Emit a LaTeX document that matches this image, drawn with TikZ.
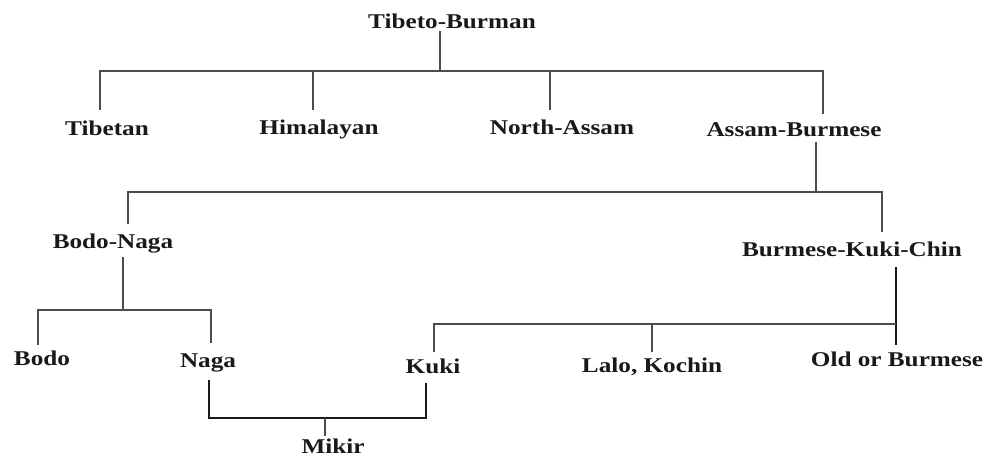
\documentclass[tikz,border=0pt]{standalone}
\usepackage{fontspec}
\setmainfont{Liberation Serif}[FakeStretch=1.2]
\begin{document}
\begin{tikzpicture}[x=1pt,y=-1pt,
  lbl/.style={font=\fontsize{21}{25}\selectfont\bfseries, inner sep=0pt, anchor=base, text=black!90},
  ln/.style={draw=black!70, line width=1.3pt},
  thk/.style={draw=black!90, line width=2.2pt}]
\useasboundingbox[fill=white] (0,0) rectangle (988,457);
% nodes
\node[lbl] (tb) at (452,29) {Tibeto-Burman};
\node[lbl] (tib) at (107,136) {Tibetan};
\node[lbl] (him) at (319,135) {Himalayan};
\node[lbl] (na) at (562,135) {North-Assam};
\node[lbl] (ab) at (794,137) {Assam-Burmese};
\node[lbl] (bn) at (113,248) {Bodo-Naga};
\node[lbl] (bkc) at (852,256) {Burmese-Kuki-Chin};
\node[lbl] (bodo) at (42,365) {Bodo};
\node[lbl] (naga) at (208,367) {Naga};
\node[lbl] (kuki) at (433,373) {Kuki};
\node[lbl] (lalo) at (652,372) {Lalo, Kochin};
\node[lbl] (old) at (897,366) {Old or Burmese};
\node[lbl] (mikir) at (333,453) {Mikir};
% coordinates
\coordinate (tbS) at (440,31);
\coordinate (tbJ) at (440,71);
\coordinate (tibT) at (100,110);
\coordinate (himT) at (313,110);
\coordinate (naT) at (550,110);
\coordinate (abT) at (823,114);
\coordinate (abS) at (816,142);
\coordinate (abJ) at (816,192);
\coordinate (bnT) at (128,224);
\coordinate (bkcT) at (882,232);
\coordinate (bnS) at (123,257);
\coordinate (bnJ) at (123,310);
\coordinate (bodoT) at (38,345);
\coordinate (nagaT) at (211,343);
\coordinate (bkcS) at (896,267);
\coordinate (bkcB) at (896,345);
\coordinate (bkcJ) at (896,324);
\coordinate (kukiT) at (434,352);
\coordinate (laloT) at (652,352);
\coordinate (nagaS) at (209,380);
\coordinate (kukiS) at (426,383);
\coordinate (mkJ) at (325,418);
\coordinate (mikT) at (325,436);
% connectors
\draw[ln] (tbS) -- (tbJ);
\draw[ln] (tibT) |- (tbJ) -| (abT);
\draw[ln] (himT) -- (himT |- tbJ);
\draw[ln] (naT) -- (naT |- tbJ);
\draw[ln] (abS) -- (abJ);
\draw[ln] (bnT) |- (abJ) -| (bkcT);
\draw[ln] (bnS) -- (bnJ);
\draw[ln] (bodoT) |- (bnJ) -| (nagaT);
\draw[thk] (bkcS) -- (bkcB);
\draw[ln] (kukiT) |- (bkcJ);
\draw[ln] (laloT) -- (laloT |- bkcJ);
\draw[thk] (nagaS) |- (mkJ) -| (kukiS);
\draw[ln] (mkJ) -- (mikT);
\end{tikzpicture}
\end{document}
